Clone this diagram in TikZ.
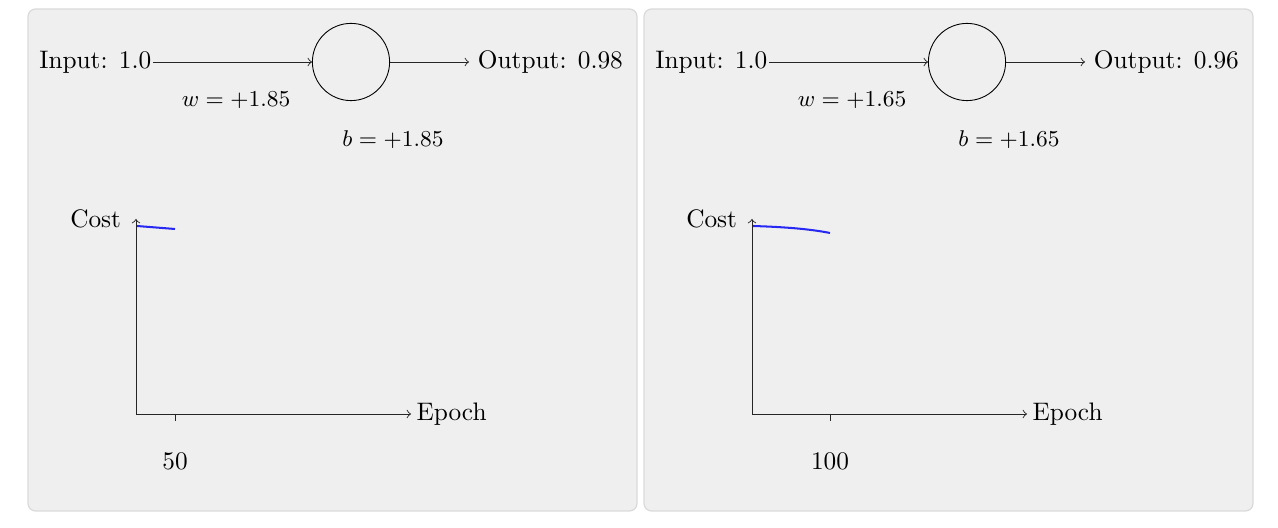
\documentclass[tikz,border=0pt]{standalone}
\definecolor{panelfill}{RGB}{239,239,239}
\definecolor{panelborder}{RGB}{218,218,218}
\definecolor{costblue}{RGB}{40,40,245}
\tikzset{
  panelbox/.style={draw=panelborder, fill=panelfill, rounded corners=3pt, line width=0.5pt},
  neuron/.style={draw, circle, minimum size=30.5pt, inner sep=0pt, line width=0.35pt},
  lbl/.style={font=\small},
  ticklbl/.style={font=\normalsize},
  thinline/.style={line width=0.35pt, draw=black!85},
  axisline/.style={->, thinline},
  costline/.style={draw=costblue, line width=0.8pt},
}
\newcommand{\nnpanel}[6]{% #1 prefix, #2 shift, #3 output, #4 weight, #5 tick label, #6 tick x
  \begin{scope}[shift={(#2,0)}]
    \path[panelbox] (28,9) rectangle (637,511);
    \node[anchor=east, inner xsep=0.5pt] (#1in) at (153,62) {Input: 1.0};
    \node[neuron] (#1n) at (351,62) {};
    \node[anchor=west] (#1out) at (469,62) {Output: #3};
    \draw[->, thinline] (#1in.east) -- (#1n.west);
    \draw[->, thinline] (#1n.east) -- (#1out.west);
    \node[lbl] (#1w) at (236,100) {$w=+#4$};
    \node[lbl] (#1b) at (393,140) {$b=+#4$};
    \coordinate (#1o) at (136,414);
    \coordinate (#1yt) at (136,219);
    \coordinate (#1xt) at (411,414);
    \draw[axisline] (#1o) -- (#1yt);
    \draw[axisline] (#1o) -- (#1xt);
    \node[anchor=west, inner sep=2pt] (#1ep) at (#1xt) {Epoch};
    \node[anchor=east] (#1cost) at (130,219) {Cost};
    \coordinate (#1tk) at (#6,414);
    \coordinate (#1tkb) at (#6,421);
    \draw[thinline] (#1tk) -- (#1tkb);
    \node[ticklbl] (#1tl) at (#6,461) {#5};
  \end{scope}}
\begin{document}
\begin{tikzpicture}[x=0.395pt, y=-0.395pt]
  \useasboundingbox (0,0) rectangle (1278,528);
  \nnpanel{a}{0}{0.98}{1.85}{50}{175}
  \nnpanel{c}{616}{0.96}{1.65}{100}{830-616}
  \coordinate (acs) at (137,226);
  \coordinate (ace) at (175,229);
  \draw[costline] (acs) -- (ace);
  \coordinate (ccs) at (753,226);
  \coordinate (cce) at (830,233);
  \draw[costline] (ccs) .. controls (785,227) and (810,229) .. (cce);
\end{tikzpicture}
\end{document}
